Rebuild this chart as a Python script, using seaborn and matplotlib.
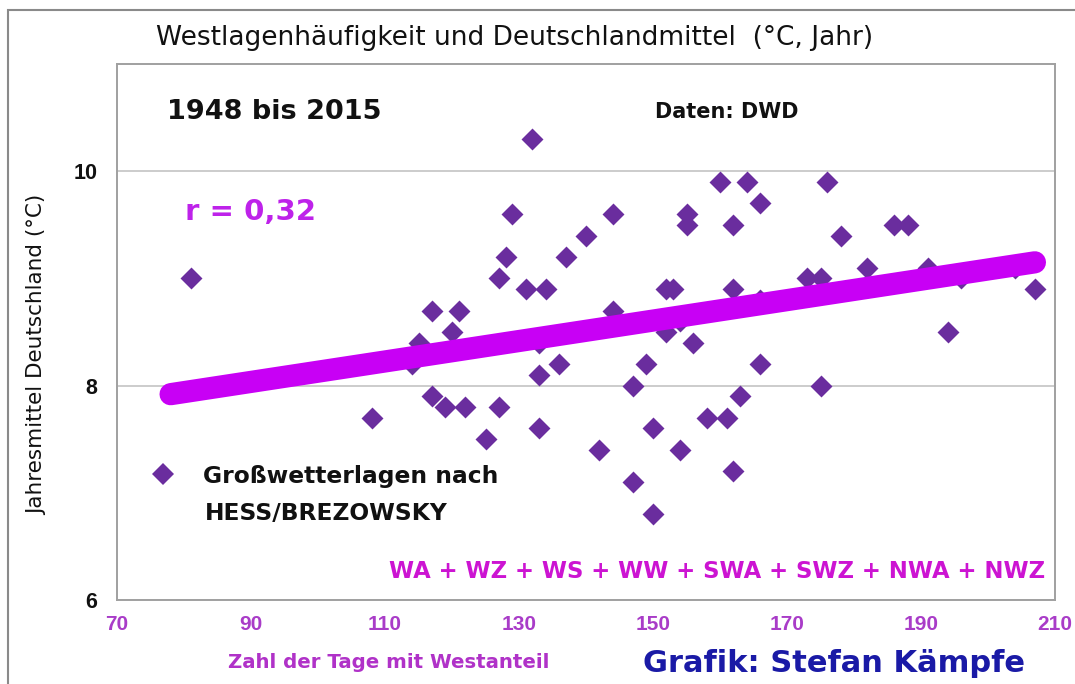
import numpy as np
import pandas as pd
import matplotlib
matplotlib.use("Agg")
import matplotlib.pyplot as plt
from matplotlib.lines import Line2D
from matplotlib.patches import Rectangle
import seaborn as sns

# ---- data ----
west_days = [81, 108, 117, 115, 114, 117, 120, 132, 121, 119, 122, 127, 125, 133, 133, 136,
             133, 129, 128, 127, 131, 134, 137, 140, 144, 144, 142, 147, 149, 147, 150, 150,
             152, 153, 152, 154, 156, 154, 158, 161, 162, 163, 155, 155, 160, 162, 162, 164,
             166, 176, 178, 186, 188, 166, 173, 175, 182, 191, 196, 204, 207, 194, 166, 175]
mean_temp = [9.0, 7.7, 8.7, 8.4, 8.2, 7.9, 8.5, 10.3, 8.7, 7.8, 7.8, 7.8, 7.5, 7.6, 8.1, 8.2,
             8.4, 9.6, 9.2, 9.0, 8.9, 8.9, 9.2, 9.4, 9.6, 8.7, 7.4, 8.0, 8.2, 7.1, 7.6, 6.8,
             8.9, 8.9, 8.5, 8.6, 8.4, 7.4, 7.7, 7.7, 7.2, 7.9, 9.6, 9.5, 9.9, 9.5, 8.9, 9.9,
             9.7, 9.9, 9.4, 9.5, 9.5, 8.8, 9.0, 9.0, 9.1, 9.1, 9.0, 9.1, 8.9, 8.5, 8.2, 8.0]
trend_x = [78, 207]
trend_y = [7.92, 9.15]

x_ticks = [70, 90, 110, 130, 150, 170, 190, 210]
y_ticks = [6, 8, 10]

df = pd.DataFrame({"days": west_days, "temp": mean_temp})
trend = pd.DataFrame({"days": trend_x, "temp": trend_y})

sns.set_style("white")
plt.rcParams["font.family"] = ["DejaVu Sans"]

W, H = 1075, 684
fig = plt.figure(figsize=(W / 100, H / 100), dpi=100)
ax = fig.add_axes([117 / W, 1 - 600 / H, (1055 - 117) / W, (600 - 64) / H])

def fx(px):
    return px / W

def fy(py):
    return 1 - py / H

PURPLE = "#6A2D9E"
LINE = "#C800F5"

sns.scatterplot(data=df, x="days", y="temp", marker="D", s=125, color=PURPLE,
                linewidth=0, ax=ax, zorder=3, legend=False)
sns.lineplot(data=trend, x="days", y="temp", color=LINE, linewidth=16, ax=ax,
             zorder=4, legend=False, solid_capstyle="round")

ax.set_xlim(70, 210)
ax.set_ylim(6, 11)
ax.set_xticks(x_ticks)
ax.set_yticks(y_ticks)
ax.set_xticklabels([str(v) for v in x_ticks])
ax.set_yticklabels([str(v) for v in y_ticks])
ax.set_xlabel("")
ax.set_ylabel("")

ax.set_axisbelow(True)
ax.yaxis.grid(True, color="#cccccc", linewidth=1.4)
ax.xaxis.grid(False)
for sp in ax.spines.values():
    sp.set_visible(True)
    sp.set_color("#a0a0a0")
    sp.set_linewidth(1.4)

ax.tick_params(axis="x", direction="out", length=4, width=1.2, color="#a0a0a0",
               pad=7, labelsize=15, labelcolor="#A93CC8")
ax.tick_params(axis="y", direction="out", length=5, width=1.2, color="#a0a0a0",
               pad=9, labelsize=15.5, labelcolor="#111111")
for lab in ax.get_xticklabels() + ax.get_yticklabels():
    lab.set_fontfamily(["Liberation Sans", "DejaVu Sans"])
    lab.set_fontweight("bold")

# outer frame of the whole graphic
fig.patches.append(Rectangle((fx(8), -0.05), 1.2, fy(10) + 0.05, transform=fig.transFigure,
                             fill=False, edgecolor="#8a8a8a", linewidth=1.5))

fig.text(fx(515), fy(38), "Westlagenhäufigkeit und Deutschlandmittel  (°C, Jahr)",
         ha="center", va="center", fontsize=19, color="#111111")
fig.text(fx(167), fy(112), "1948 bis 2015", ha="left", va="center",
         fontsize=19.5, fontweight="bold", color="#111111")
fig.text(fx(655), fy(112), "Daten: DWD", ha="left", va="center",
         fontsize=15, fontweight="bold", color="#111111")
fig.text(fx(185), fy(212), "r = 0,32", ha="left", va="center",
         fontsize=21, fontweight="bold", color="#BE22EA")

handle = Line2D([], [], marker="D", linestyle="", color=PURPLE, markersize=11.2,
                markeredgewidth=0)
leg = fig.legend([handle], ["Großwetterlagen nach"], loc="center left",
                 bbox_to_anchor=(fx(151), fy(476)), bbox_transform=fig.transFigure,
                 frameon=False, borderpad=0, borderaxespad=0, handlelength=1.0,
                 handletextpad=1.23, prop={"size": 16.8, "weight": "bold"})
for t in leg.get_texts():
    t.set_color("#111111")
fig.text(fx(205), fy(513), "HESS/BREZOWSKY", ha="left", va="center",
         fontsize=16.8, fontweight="bold", color="#111111")

fig.text(fx(1045), fy(572), "WA + WZ + WS + WW + SWA + SWZ + NWA + NWZ", ha="right",
         va="center", fontsize=16.4, fontweight="bold", color="#CC14D2")
fig.text(fx(228), fy(663), "Zahl der Tage mit Westanteil", ha="left", va="center",
         fontsize=14.2, fontweight="bold", color="#B032C8")
fig.text(fx(643), fy(663), "Grafik: Stefan Kämpfe", ha="left", va="center",
         fontsize=22, fontweight="bold", color="#1A1AA6")
fig.text(fx(37), fy(355), "Jahresmittel Deutschland (°C)", rotation=90, ha="center",
         va="center", fontsize=15.5, color="#111111")

fig.savefig("out.png", dpi=100)
